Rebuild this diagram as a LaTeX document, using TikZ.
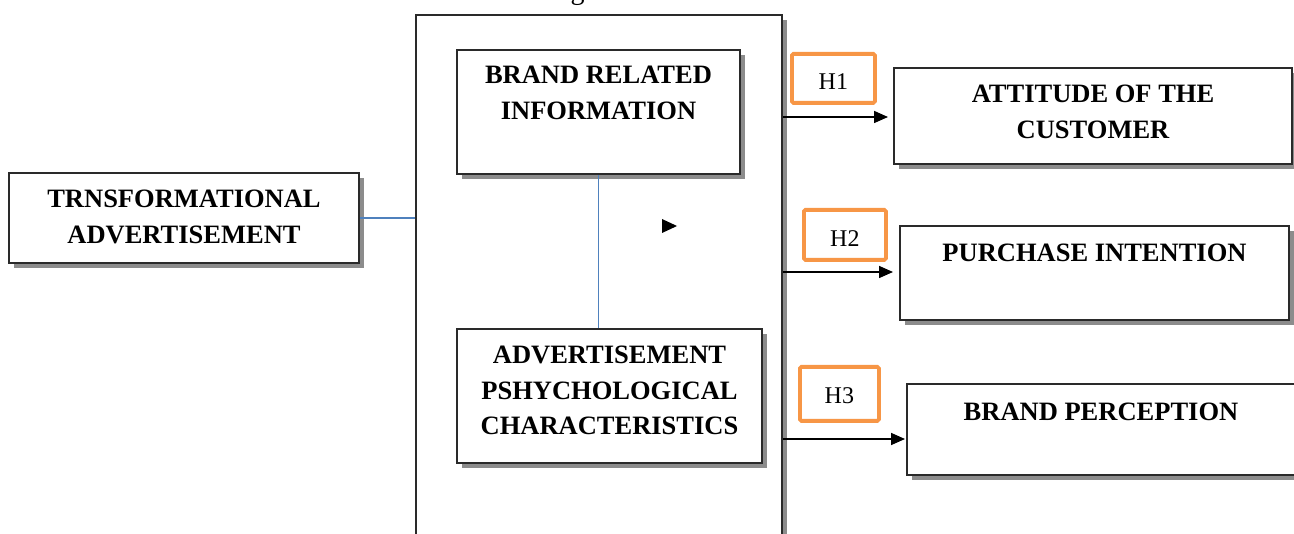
\documentclass[tikz,border=0pt]{standalone}
\usepackage{fontspec}
\setmainfont{Liberation Serif}
\usetikzlibrary{arrows.meta,shadows}
\definecolor{hor}{HTML}{F79646}
\definecolor{lblue}{HTML}{4F81BD}
\definecolor{edgec}{HTML}{2A2A2A}
\definecolor{shade}{HTML}{8C8C8C}
\newcommand{\bx}[4]{\parbox[c][#2pt][t]{#1pt}{\centering\rule{0pt}{#3pt}#4}}
\tikzset{
  box/.style={draw=edgec, line width=2pt, fill=white, inner sep=0pt,
    general shadow={fill=shade, shadow xshift=5pt, shadow yshift=-5pt},
    font=\fontsize{26.5}{35.5}\selectfont\bfseries},
  hbox/.style={draw=hor, line width=3.8pt, rounded corners=1.5pt, fill=white, inner sep=0pt,
    font=\fontsize{24}{28}\selectfont},
  conn/.style={lblue, line width=1.8pt},
  arr/.style={-{Triangle[length=14pt,width=12pt]}, line width=1.6pt}
}
\begin{document}
\begin{tikzpicture}[x=1pt,y=-1pt]
\useasboundingbox (0,0) rectangle (1294,534);
\clip (0,0) rectangle (1294,534);
\node[anchor=base west, font=\fontsize{28}{30}\selectfont, inner sep=0pt] (title) at (547,0) {Figure 1: Theoretical Framework};
\node[box, anchor=north west, minimum width=366pt, minimum height=546pt] (frame) at (415,14) {};
\node[box, anchor=north west] (trans) at (8,172) {\bx{350}{90}{35}{TRNSFORMATIONAL\\ADVERTISEMENT}};
\node[box, anchor=north west] (bri) at (456,49) {\bx{283}{124}{34}{BRAND RELATED\\INFORMATION}};
\node[box, anchor=north west] (apc) at (456,328) {\bx{305}{134}{35}{ADVERTISEMENT\\PSHYCHOLOGICAL\\CHARACTERISTICS}};
\node[box, anchor=north west] (att) at (893,67) {\bx{398}{96}{35}{ATTITUDE OF THE\\CUSTOMER}};
\node[box, anchor=north west] (pi) at (899,225) {\bx{389}{94}{36}{PURCHASE INTENTION}};
\node[box, anchor=north west] (bp) at (906,383) {\bx{388}{91}{37}{BRAND PERCEPTION}};
\node[hbox, anchor=north west] (h1) at (790,52) {\bx{83}{49}{36}{H1}};
\node[hbox, anchor=north west] (h2) at (802,208) {\bx{82}{50}{37}{H2}};
\node[hbox, anchor=north west] (h3) at (798,365) {\bx{79}{54}{37}{H3}};
\coordinate (y1) at (0,117);
\coordinate (y2) at (0,272);
\coordinate (y3) at (0,439);
\draw[conn] (trans.east) -- (frame.west |- trans.east);
\draw[conn] (bri.south) -- (bri.south |- apc.north);
\draw[arr, shorten >=5pt] (frame.east |- y1) -- (att.west |- y1);
\draw[arr, shorten >=6pt] (frame.east |- y2) -- (pi.west |- y2);
\draw[arr, shorten >=1pt] (frame.east |- y3) -- (bp.west |- y3);
\fill (662,219) -- (677,226) -- (662,233) -- cycle;
\end{tikzpicture}
\end{document}
